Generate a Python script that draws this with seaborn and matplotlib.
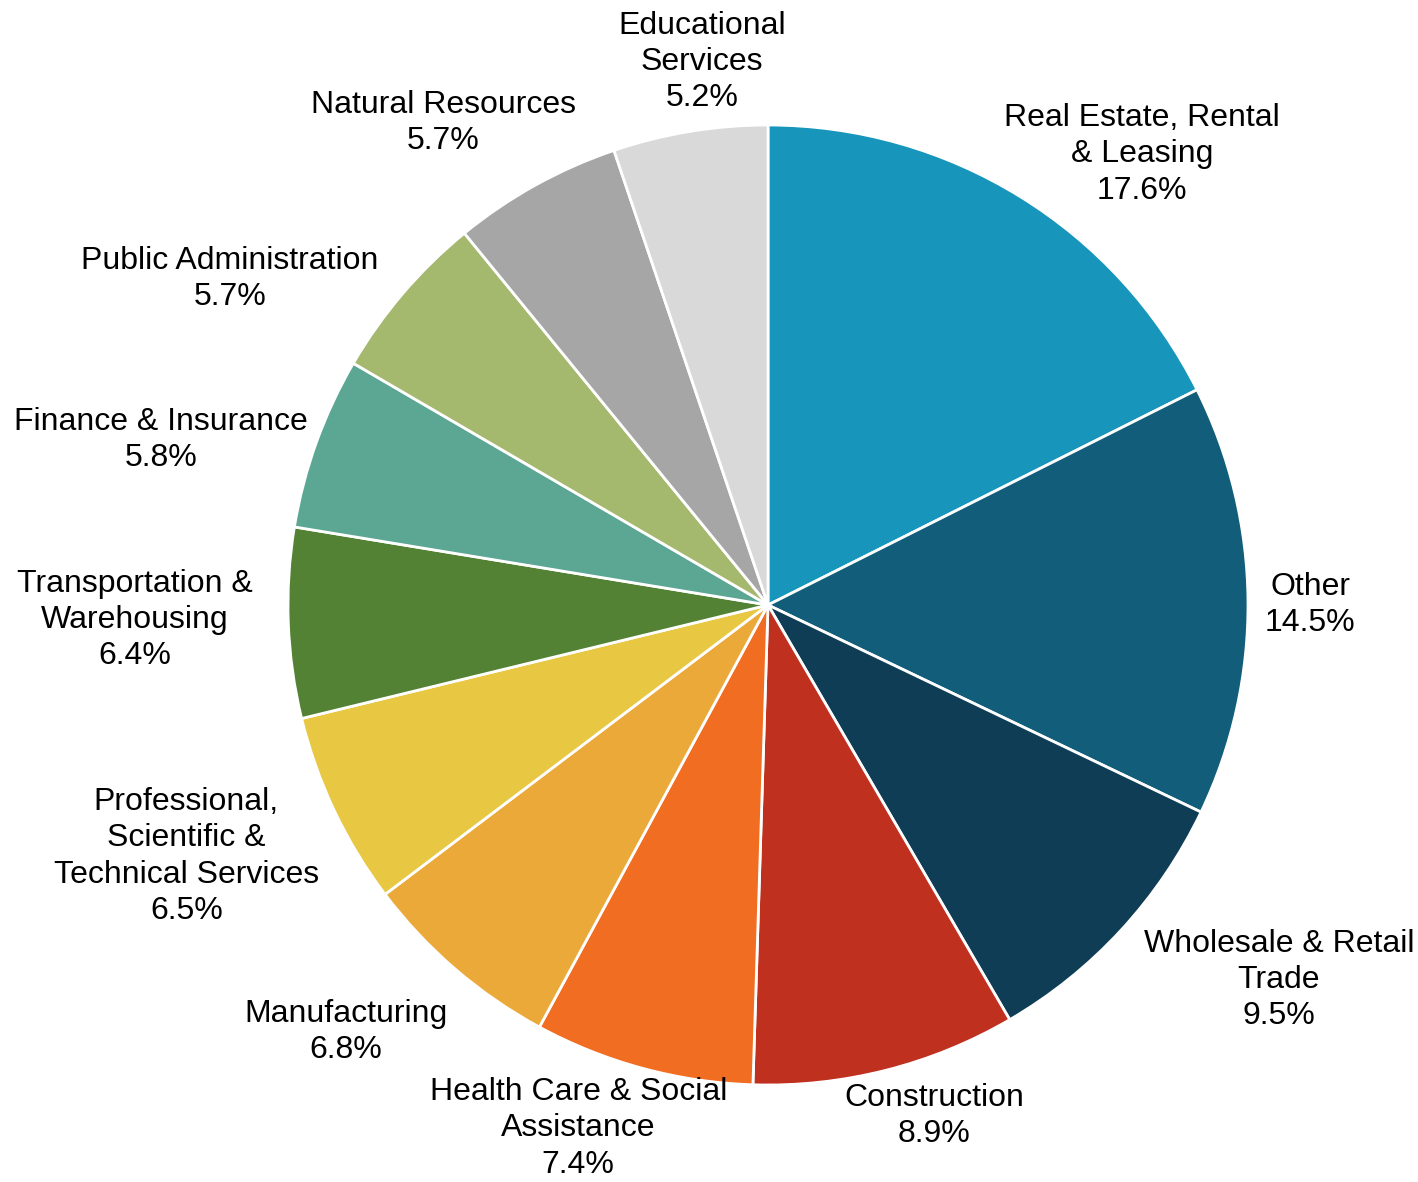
import matplotlib
matplotlib.use("Agg")
import matplotlib.pyplot as plt
import seaborn as sns
import numpy as np

sns.set_theme(style="white")
plt.rcParams["font.family"] = ["Liberation Sans", "DejaVu Sans"]

labels = [
    "Real Estate, Rental\n& Leasing",
    "Other",
    "Wholesale & Retail\nTrade",
    "Construction",
    "Health Care & Social\nAssistance",
    "Manufacturing",
    "Professional,\nScientific &\nTechnical Services",
    "Transportation &\nWarehousing",
    "Finance & Insurance",
    "Public Administration",
    "Natural Resources",
    "Educational\nServices",
]
shares = [17.6, 14.5, 9.5, 8.9, 7.4, 6.8, 6.5, 6.4, 5.8, 5.7, 5.7, 5.2]
colors = [
    "#1795BA", "#115D7A", "#0F3D55", "#C0301F", "#F06D22", "#EBA93A",
    "#E8C843", "#538234", "#5BA794", "#A4B86E", "#A6A6A6", "#D9D9D9",
]

# label layout: distance from centre (in radii) and angle nudge (deg)
label_r = [1.22, 1.13, 1.32, 1.12, 1.16, 1.25, 1.32, 1.32, 1.31, 1.31, 1.21, 1.14]
label_nudge = [-8, -0.5, 6.4, 3.8, -4.8, -4, -2, -0.8, 4.6, 9.3, 5, -2.4]

W, H = 1418, 1182
CX, CY, R = 768, 605, 480  # pie centre / radius in pixels

fig = plt.figure(figsize=(W / 100, H / 100), dpi=100)
ax = fig.add_axes([0, 0, 1, 1])
palette = sns.color_palette(colors)

wedges, _ = ax.pie(
    shares,
    colors=palette,
    startangle=90,
    counterclock=False,
    wedgeprops=dict(edgecolor="white", linewidth=2),
)
ax.set_xlim(-CX / R, (W - CX) / R)
ax.set_ylim(-(H - CY) / R, CY / R)
ax.set_aspect("equal", adjustable="box")
ax.axis("off")

for w, lab, val, r, nd in zip(wedges, labels, shares, label_r, label_nudge):
    mid = np.deg2rad((w.theta1 + w.theta2) / 2 + nd)
    ax.text(r * np.cos(mid), r * np.sin(mid), f"{lab}\n{val:.1f}%",
            ha="center", va="center", fontsize=23, color="black",
            multialignment="center", linespacing=1.27)

fig.savefig("out.png", dpi=100, facecolor="white")
